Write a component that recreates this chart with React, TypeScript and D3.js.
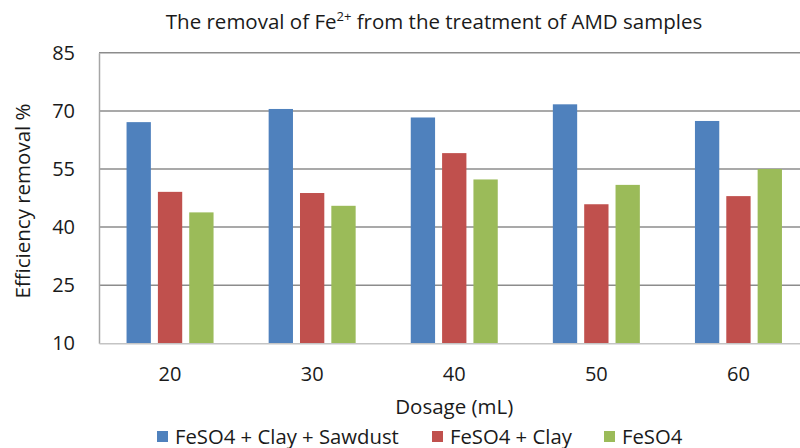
import React, { useEffect, useRef } from 'react';
import * as d3 from 'd3';

// dosage groups on the x axis
const dosages = ['20', '30', '40', '50', '60'];
const seriesNames = ['FeSO4 + Clay + Sawdust', 'FeSO4 + Clay', 'FeSO4'];
const sawdustValues = [67.1, 70.5, 68.3, 71.7, 67.4];
const clayValues = [49.1, 48.8, 59.1, 45.9, 48.0];
const feso4Values = [43.8, 45.5, 52.3, 50.9, 55.0];
const yTicks = [10, 25, 40, 55, 70, 85];
const colors = ['#4F81BD', '#C0504D', '#9BBB59'];

const FONT = '"Open Sans", "DejaVu Sans", sans-serif';
const INK = '#1a1a1a';

export default function App() {
    const ref = useRef<SVGSVGElement>(null);

    useEffect(() => {
        const svg = d3.select(ref.current);
        svg.selectAll('*').remove();

        const width = 800;
        const height = 448;
        const left = 99, right = 809.5, top = 52.8, bottom = 343.3;

        const values = [sawdustValues, clayValues, feso4Values];
        const rows = dosages.map((d, i) => ({
            dosage: d,
            vals: values.map((v, s) => ({ s, v: v[i] }))
        }));

        const y = d3.scaleLinear().domain([10, 85]).range([bottom, top]);
        const x0 = d3.scaleBand().domain(dosages).range([left, right]).padding(0);
        const x1 = d3.scaleBand<number>()
            .domain([0, 1, 2])
            .range([0, x0.bandwidth()])
            .paddingInner(0.224)
            .paddingOuter(0.879);

        svg.attr('width', width).attr('height', height);
        svg.append('rect').attr('width', width).attr('height', height).attr('fill', '#fff');

        // title
        const title = svg.append('text')
            .attr('x', 434).attr('y', 29)
            .attr('text-anchor', 'middle')
            .style('font-family', FONT).style('font-size', '20.5px').attr('fill', INK);
        title.append('tspan').text('The removal of Fe');
        title.append('tspan').attr('dy', -8).style('font-size', '13px').text('2+');
        title.append('tspan').attr('dy', 8).text(' from the treatment of AMD samples');

        // gridlines
        svg.append('g').selectAll('line')
            .data(yTicks.filter(t => t > 10))
            .enter().append('line')
            .attr('x1', left).attr('x2', width)
            .attr('y1', d => y(d)).attr('y2', d => y(d))
            .attr('stroke', '#8c8c8c').attr('stroke-width', 1.5);

        // y axis
        const yAxis = svg.append('g')
            .attr('transform', `translate(${left},0)`)
            .call(d3.axisLeft(y).tickValues(yTicks).tickSize(0).tickPadding(24));
        yAxis.select('.domain').attr('stroke', '#a6a6a6').attr('stroke-width', 1.5);
        yAxis.selectAll('text')
            .style('font-family', FONT).style('font-size', '20px').attr('fill', INK);

        // bars
        const groups = svg.append('g').selectAll('g')
            .data(rows).enter().append('g')
            .attr('transform', d => `translate(${x0(d.dosage)},0)`);
        groups.selectAll('rect')
            .data(d => d.vals)
            .enter().append('rect')
            .attr('x', d => x1(d.s) as number)
            .attr('y', d => y(d.v))
            .attr('width', x1.bandwidth())
            .attr('height', d => bottom - y(d.v))
            .attr('fill', d => colors[d.s]);

        // x axis
        const xAxis = svg.append('g')
            .attr('transform', `translate(0,${bottom})`)
            .call(d3.axisBottom(x0).tickSize(0).tickPadding(24));
        xAxis.select('.domain').attr('stroke', '#c4c4c4').attr('stroke-width', 1.5);
        xAxis.selectAll('text')
            .style('font-family', FONT).style('font-size', '20px').attr('fill', INK);

        // axis titles
        svg.append('text')
            .attr('x', (left + right) / 2).attr('y', 414)
            .attr('text-anchor', 'middle')
            .style('font-family', FONT).style('font-size', '20.5px').attr('fill', INK)
            .text('Dosage (mL)');
        svg.append('text')
            .attr('transform', `translate(30,${(top + bottom) / 2 + 3}) rotate(-90)`)
            .attr('text-anchor', 'middle')
            .style('font-family', FONT).style('font-size', '20.5px').attr('fill', INK)
            .text('Efficiency removal %');

        // legend
        const legendX = [157, 432, 604];
        const legend = svg.append('g').selectAll('g')
            .data(seriesNames).enter().append('g')
            .attr('transform', (d, i) => `translate(${legendX[i]},431)`);
        legend.append('rect').attr('width', 11).attr('height', 11)
            .attr('fill', (d, i) => colors[i]);
        legend.append('text').attr('x', 18).attr('y', 12.5)
            .style('font-family', FONT).style('font-size', '20.3px').attr('fill', INK)
            .text(d => d);
    }, []);

    return (
        <div>
            <svg ref={ref} style={{ position: 'absolute', left: 0, top: 0, display: 'block' }}></svg>
        </div>
    );
}
